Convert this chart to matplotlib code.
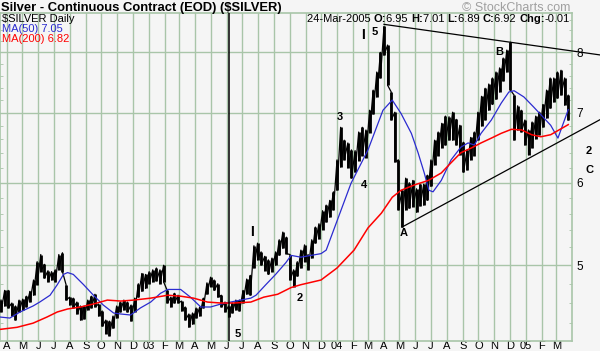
import matplotlib
matplotlib.use("Agg")
import matplotlib.pyplot as plt
import matplotlib.dates as mdates
from matplotlib.ticker import FixedLocator, FuncFormatter, NullFormatter
import pandas as pd

# weekly high/low of $SILVER (Mar 2002 .. Mar 2005)
week_start = "2002-03-21"
week_low = [
    4.51, 4.57, 4.55, 4.47, 4.43, 4.51, 4.53, 4.56, 4.61, 4.68,
    4.79, 4.93, 4.86, 4.82, 4.84, 4.82, 4.95, 4.93, 4.63, 4.58,
    4.55, 4.49, 4.43, 4.44, 4.53, 4.55, 4.56, 4.47, 4.37, 4.30,
    4.28, 4.35, 4.45, 4.51, 4.53, 4.51, 4.42, 4.51, 4.66, 4.72,
    4.75, 4.80, 4.82, 4.83, 4.80, 4.82, 4.60, 4.56, 4.60, 4.60,
    4.52, 4.43, 4.36, 4.39, 4.45, 4.47, 4.55, 4.69, 4.77, 4.73,
    4.66, 4.56, 4.51, 4.46, 4.50, 4.53, 4.52, 4.60, 4.69, 4.68,
    4.97, 5.06, 5.00, 4.94, 4.90, 4.93, 5.00, 5.11, 5.19, 5.13,
    4.84, 4.77, 4.88, 4.97, 5.04, 4.95, 5.08, 5.25, 5.30, 5.41,
    5.50, 5.56, 5.65, 5.90, 6.21, 6.31, 6.20, 6.06, 6.14, 6.30,
    6.37, 6.34, 6.70, 6.98, 7.25, 7.56, 7.95, 7.44, 6.89, 6.28,
    5.65, 5.44, 5.65, 5.67, 5.69, 5.62, 5.70, 5.71, 5.77, 5.95,
    6.24, 6.37, 6.48, 6.52, 6.59, 6.59, 6.52, 6.38, 6.14, 6.17,
    6.31, 6.37, 6.59, 6.80, 6.89, 7.04, 7.13, 7.21, 7.33, 7.51,
    7.66, 7.36, 6.59, 6.74, 6.71, 6.52, 6.38, 6.48, 6.61, 6.67,
    6.78, 6.92, 7.07, 7.17, 7.23, 7.28, 7.12, 6.89,
]
week_high = [
    4.63, 4.73, 4.73, 4.60, 4.57, 4.63, 4.64, 4.67, 4.72, 4.84,
    5.04, 5.12, 5.01, 4.94, 4.93, 4.95, 5.12, 5.14, 4.79, 4.66,
    4.65, 4.61, 4.57, 4.57, 4.63, 4.67, 4.69, 4.59, 4.52, 4.43,
    4.42, 4.47, 4.57, 4.61, 4.63, 4.61, 4.58, 4.65, 4.80, 4.91,
    4.90, 4.93, 4.95, 4.97, 4.95, 5.00, 4.73, 4.66, 4.70, 4.68,
    4.62, 4.56, 4.49, 4.50, 4.55, 4.56, 4.65, 4.81, 4.87, 4.84,
    4.80, 4.68, 4.61, 4.57, 4.60, 4.63, 4.63, 4.73, 4.85, 4.89,
    5.22, 5.25, 5.15, 5.10, 5.06, 5.08, 5.15, 5.29, 5.38, 5.32,
    5.12, 4.95, 5.04, 5.17, 5.23, 5.12, 5.29, 5.44, 5.48, 5.64,
    5.71, 5.77, 5.88, 6.31, 6.78, 6.59, 6.55, 6.45, 6.44, 6.71,
    6.78, 6.74, 7.04, 7.36, 7.66, 8.00, 8.47, 8.13, 7.33, 7.01,
    6.31, 5.90, 6.06, 6.00, 6.03, 5.92, 5.98, 5.98, 6.10, 6.31,
    6.59, 6.71, 6.84, 6.95, 6.94, 7.01, 6.90, 6.81, 6.56, 6.45,
    6.63, 6.71, 7.01, 7.26, 7.39, 7.46, 7.56, 7.66, 7.73, 7.90,
    8.04, 8.18, 7.28, 7.11, 7.04, 6.89, 6.74, 6.86, 6.95, 7.01,
    7.13, 7.36, 7.56, 7.56, 7.66, 7.69, 7.56, 7.28,
]

ma50_dates = [
    "2002-03-19", "2002-04-07", "2002-04-27", "2002-05-22", "2002-06-04",
    "2002-06-24", "2002-07-08", "2002-07-20", "2002-07-28", "2002-08-08",
    "2002-08-28", "2002-09-16", "2002-10-05", "2002-10-25", "2002-11-08",
    "2002-11-27", "2002-12-16", "2003-01-05", "2003-01-24", "2003-02-07",
    "2003-03-04", "2003-03-23", "2003-04-12", "2003-05-01", "2003-05-21",
    "2003-06-09", "2003-06-28", "2003-07-18", "2003-07-28", "2003-08-16",
    "2003-09-04", "2003-09-24", "2003-10-04", "2003-10-23", "2003-12-01",
    "2003-12-11", "2004-01-28", "2004-03-01", "2004-03-30", "2004-04-17",
    "2004-05-04", "2004-05-24", "2004-06-06", "2004-06-18", "2004-06-27",
    "2004-07-05", "2004-07-21", "2004-08-09", "2004-08-28", "2004-09-11",
    "2004-09-23", "2004-10-06", "2004-10-26", "2004-11-14", "2004-11-29",
    "2004-12-09", "2004-12-28", "2005-01-16", "2005-01-30", "2005-02-18",
    "2005-03-04", "2005-03-24",
]
ma50_vals = [
    4.46, 4.45, 4.51, 4.57, 4.61, 4.68, 4.79, 4.90, 4.92, 4.90,
    4.79, 4.68, 4.58, 4.50, 4.49, 4.48, 4.55, 4.61, 4.70, 4.74,
    4.74, 4.66, 4.56, 4.56, 4.59, 4.61, 4.63, 4.65, 4.68, 4.79,
    4.90, 5.03, 5.11, 5.09, 5.13, 5.17, 5.99, 6.45, 7.04, 7.20,
    6.99, 6.69, 6.41, 6.13, 5.90, 5.88, 6.03, 6.31, 6.49, 6.55,
    6.52, 6.69, 6.89, 7.15, 7.33, 7.35, 7.25, 7.09, 6.97, 6.81,
    6.62, 7.05,
]

ma200_dates = [
    "2002-03-19", "2002-04-21", "2002-05-22", "2002-06-18", "2002-07-08",
    "2002-07-28", "2002-08-22", "2002-09-16", "2002-10-13", "2002-11-08",
    "2002-12-03", "2003-01-05", "2003-02-07", "2003-03-04", "2003-03-29",
    "2003-04-25", "2003-05-21", "2003-06-15", "2003-07-18", "2003-08-12",
    "2003-09-08", "2003-10-04", "2003-10-23", "2003-12-01", "2004-01-01",
    "2004-02-03", "2004-03-01", "2004-03-27", "2004-04-17", "2004-05-04",
    "2004-05-30", "2004-06-26", "2004-07-21", "2004-08-09", "2004-08-28",
    "2004-09-18", "2004-10-06", "2004-10-26", "2004-11-14", "2004-12-04",
    "2004-12-24", "2005-01-12", "2005-01-30", "2005-02-18", "2005-03-24",
]
ma200_vals = [
    4.34, 4.36, 4.40, 4.46, 4.51, 4.54, 4.56, 4.59, 4.63, 4.62,
    4.63, 4.65, 4.68, 4.67, 4.65, 4.61, 4.60, 4.60, 4.61, 4.66,
    4.69, 4.76, 4.79, 4.84, 4.97, 5.17, 5.43, 5.61, 5.81, 5.90,
    5.97, 6.03, 6.13, 6.27, 6.41, 6.48, 6.55, 6.62, 6.69, 6.75,
    6.74, 6.67, 6.64, 6.67, 6.82,
]

# hand-drawn trendlines (date, price) and wave-count labels
upper_line = (["2004-04-01", "2005-05-28"], [8.51, 7.95])
lower_line = (["2004-05-06", "2005-05-28"], [5.44, 6.91])
marker_date = "2003-06-06"
wave_labels = [
    ("5", "2003-06-23", 4.30, 8), ("I", "2003-07-20", 5.38, 10),
    ("2", "2003-10-21", 4.65, 8), ("3", "2004-01-07", 6.94, 8),
    ("4", "2004-02-23", 5.97, 8), ("I", "2004-02-21", 8.31, 10),
    ("5", "2004-03-15", 8.37, 8), ("A", "2004-05-10", 5.37, 8),
    ("B", "2004-11-11", 8.01, 8), ("2", "2005-05-03", 6.43, 8),
    ("C", "2005-05-05", 6.17, 8),
]
header = [("24-Mar-2005 ", False), ("O:", True), ("6.95 ", False),
          ("H:", True), ("7.01 ", False), ("L:", True), ("6.89 ", False),
          ("C:", True), ("6.92 ", False), ("Chg:", True), ("-0.01", False)]

BG = "#f5f5f5"
GRID = "#a9c5a9"
BLUE = "#2b2bd0"
plt.rcParams["font.family"] = ["Liberation Sans", "DejaVu Sans"]

fig = plt.figure(figsize=(6.0, 3.51), dpi=100, facecolor=BG)
ax = fig.add_axes([0.0, 10.3 / 351, 572.3 / 600, 327.4 / 351], facecolor=BG)
ax.set_yscale("log")
ax.set_xlim(pd.Timestamp("2002-03-19"), pd.Timestamp("2005-03-31 20:00"))
ax.set_ylim(4.233, 8.72)

# price bars: weekly ranges joined by a zigzag high->low path
wd = pd.date_range(week_start, periods=len(week_low), freq="7D")
ax.vlines(wd, week_low, week_high, color="black", lw=2.0, zorder=3)
zz_x, zz_y = [], []
for d, lo, hi in zip(wd, week_low, week_high):
    zz_x += [d, d]
    zz_y += [hi, lo]
ax.plot(zz_x, zz_y, color="black", lw=0.9, zorder=3)
ax.plot(pd.to_datetime(ma50_dates), ma50_vals, color=BLUE, lw=0.9, zorder=4)
ax.plot(pd.to_datetime(ma200_dates), ma200_vals, color="#ff0000", lw=1.1, zorder=4)

for xs, ys in (upper_line, lower_line):
    ax.plot(pd.to_datetime(xs), ys, color="black", lw=0.9, clip_on=False, zorder=5)
ax.axvline(pd.Timestamp(marker_date), color="black", lw=1.1, zorder=5)

for txt, d, p, fs in wave_labels:
    ax.text(pd.Timestamp(d), p, txt, fontsize=fs, fontweight="bold",
            ha="center", va="center", clip_on=False, zorder=6)

# axes styling
def month_label(v, pos):
    d = mdates.num2date(v)
    return f"{d.year % 100:02d}" if d.month == 1 else "JFMAMJJASOND"[d.month - 1]

ax.xaxis.set_major_locator(mdates.MonthLocator())
ax.xaxis.set_major_formatter(FuncFormatter(month_label))
ax.tick_params(axis="x", length=0, pad=0.5, labelsize=8)
ax.yaxis.set_major_locator(FixedLocator([5, 6, 7, 8]))
ax.yaxis.set_major_formatter(FuncFormatter(lambda v, pos: f"{v:g}"))
ax.yaxis.set_minor_locator(FixedLocator([4.4, 4.6, 4.8, 5.2, 5.4, 5.6, 5.8, 6.2,
                                         6.4, 6.6, 6.8, 7.2, 7.4, 7.6, 7.8,
                                         8.2, 8.4, 8.6]))
ax.yaxis.set_minor_formatter(NullFormatter())
ax.tick_params(axis="y", which="both", left=True, right=True, labelleft=False,
               labelright=True, direction="in", color=GRID, labelsize=8.5, pad=3)
ax.tick_params(axis="y", which="minor", length=2.5)
ax.tick_params(axis="y", which="major", length=0)
ax.grid(True, which="major", color=GRID, lw=1.0, zorder=0)
ax.set_axisbelow(True)
for s in ax.spines.values():
    s.set_color(GRID)
    s.set_linewidth(1.2)

# texts
fig.text(0.002, 1 - 8 / 351, "Silver - Continuous Contract (EOD) ($SILVER)",
         fontsize=9.4, fontweight="bold", va="center", ha="left")
fig.text(570 / 600, 1 - 8 / 351, "\u00a9 StockCharts.com", fontsize=9,
         color="#a0a0a0", va="center", ha="right")
ax.text(2 / 572, 1 - 6 / 327, "$SILVER Daily", transform=ax.transAxes,
        fontsize=8, va="center", ha="left")
ax.text(2 / 572, 1 - 16 / 327, "MA(50) 7.05", transform=ax.transAxes,
        fontsize=8, va="center", ha="left", color=BLUE)
ax.text(2 / 572, 1 - 26 / 327, "MA(200) 6.82", transform=ax.transAxes,
        fontsize=8, va="center", ha="left", color="#ff0000")

prev = None
for txt, bold in header:
    w = "bold" if bold else "normal"
    if prev is None:
        prev = ax.text(307 / 572, 1 - 6 / 327, txt, transform=ax.transAxes,
                       fontsize=8, fontweight=w, va="center", ha="left")
    else:
        prev = ax.annotate(txt, xy=(1, 0.5), xycoords=prev, fontsize=8,
                           fontweight=w, va="center", ha="left")

fig.savefig("out.png", dpi=100, facecolor=BG)
